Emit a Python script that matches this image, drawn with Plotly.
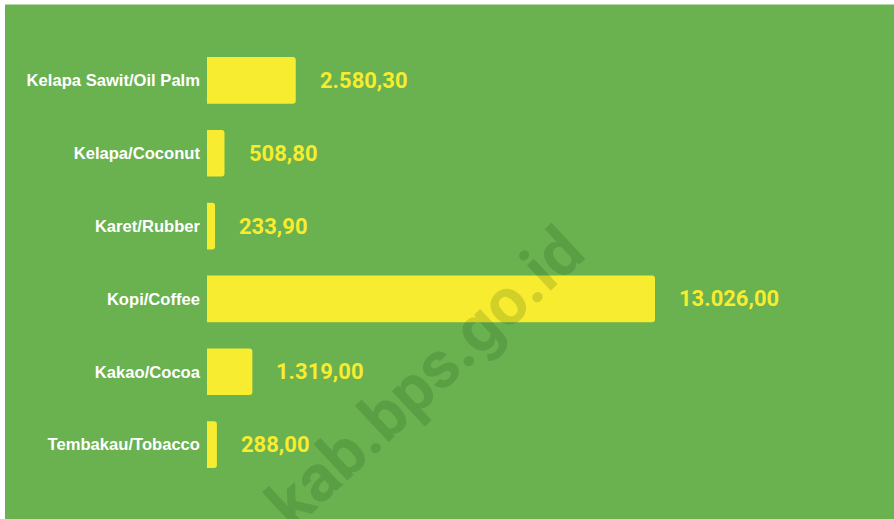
import plotly.graph_objects as go

categories = ["Kelapa Sawit/Oil Palm", "Kelapa/Coconut", "Karet/Rubber",
              "Kopi/Coffee", "Kakao/Cocoa", "Tembakau/Tobacco"]
values = [2580.30, 508.80, 233.90, 13026.00, 1319.00, 288.00]
value_labels = ["2.580,30", "508,80", "233,90", "13.026,00", "1.319,00", "288,00"]
watermark = "kab.bps.go.id"

GREEN = "#6ab150"
YELLOW = "#f7ec2f"

W, H = 894, 519
ml, mt = 207, 43.5
pw, ph = 671, 438
mr = W - ml - pw
mb = H - mt - ph

def px_to_paper_x(px):
    return (px - ml) / pw

def px_to_paper_y(py):
    return 1 - (py - mt) / ph

fig = go.Figure()
fig.add_trace(go.Bar(
    y=categories, x=values, orientation="h",
    marker=dict(color=YELLOW, line=dict(width=0), cornerradius=3),
    width=0.64, hoverinfo="skip",
))

annotations = []
for c, v, t in zip(categories, values, value_labels):
    annotations.append(dict(
        x=v, y=c, xref="x", yref="y", text=t, showarrow=False,
        xanchor="left", yanchor="middle", xshift=22,
        font=dict(family="Roboto", size=22, color=YELLOW, weight="bold"),
    ))

annotations.append(dict(
    x=px_to_paper_x(425), y=px_to_paper_y(378), xref="paper", yref="paper",
    text="<b>" + watermark + "</b>", showarrow=False, textangle=-43,
    xanchor="center", yanchor="middle",
    font=dict(family="Roboto", size=66, color="rgba(20,70,10,0.17)"),
))

fig.update_layout(
    width=W, height=H,
    margin=dict(l=ml, r=mr, t=mt, b=mb, pad=0),
    paper_bgcolor="white",
    plot_bgcolor="rgba(0,0,0,0)",
    showlegend=False,
    bargap=0.36,
    xaxis=dict(range=[0, 13026 * pw / 448], visible=False, fixedrange=True),
    yaxis=dict(autorange="reversed", showgrid=False, zeroline=False,
               showline=False, ticks="", ticklabelstandoff=6, fixedrange=True,
               tickfont=dict(family="Liberation Sans", size=16.6, color="white", weight="bold")),
    shapes=[dict(type="rect", xref="paper", yref="paper", layer="below",
                 x0=px_to_paper_x(5), x1=px_to_paper_x(W + 2),
                 y0=px_to_paper_y(H + 2), y1=px_to_paper_y(4),
                 fillcolor=GREEN, line=dict(width=0))],
    annotations=annotations,
)

fig.write_html(
    "out.html",
    config={"displayModeBar": False, "staticPlot": True},
    post_script="document.body.style.margin='0';document.body.style.overflow='hidden';",
)
